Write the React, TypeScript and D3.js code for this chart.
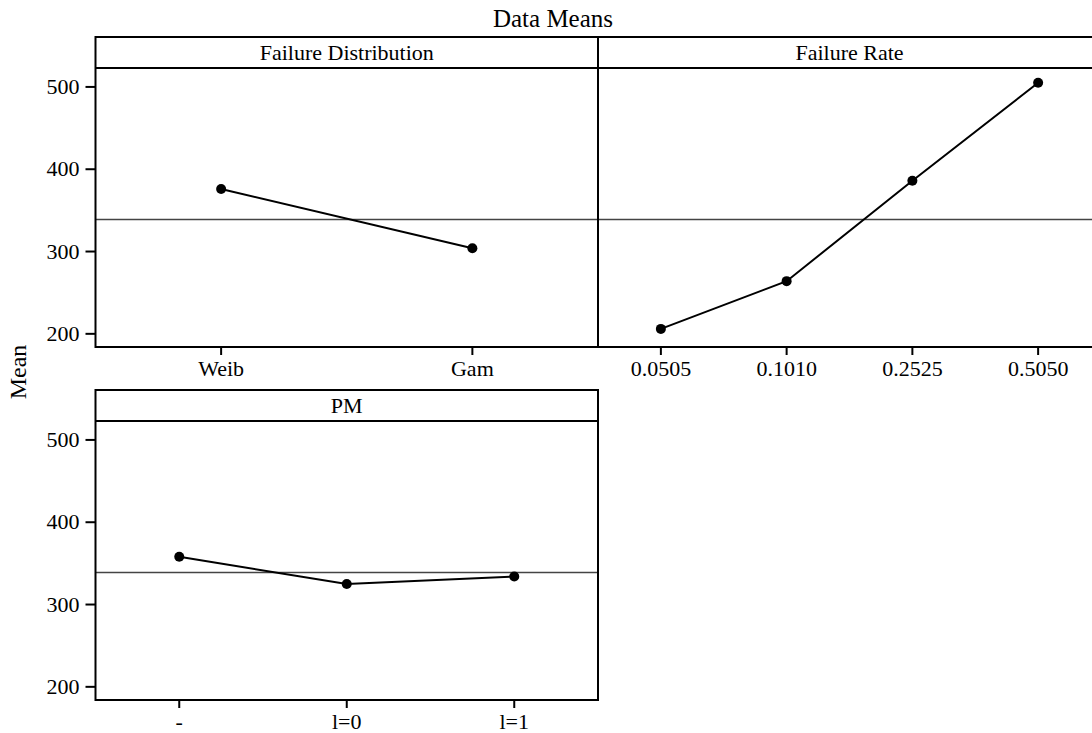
import React from "react";
import * as d3 from "d3";

const chartTitle = "Data Means";
const yLabel = "Mean";
const yTicks = [200, 300, 400, 500];
const yDomain = [184, 523];
const grandMean = 339;

const distCategories = ["Weib", "Gam"];
const distMeans = [376, 304];

const rateCategories = ["0.0505", "0.1010", "0.2525", "0.5050"];
const rateMeans = [206, 264, 386, 505];

const pmCategories = ["-", "l=0", "l=1"];
const pmMeans = [358, 325, 334];

const W = 1092;
const H = 733;
const FONT = "'Liberation Serif', 'Times New Roman', serif";
const FS = 22;

type PanelProps = {
  x0: number;
  x1: number;
  top: number;
  title: string;
  categories: string[];
  values: number[];
  showY: boolean;
};

const STRIP_H = 31;
const PLOT_H = 279;

function Panel({ x0, x1, top, title, categories, values, showY }: PanelProps) {
  const plotTop = top + STRIP_H;
  const plotBottom = plotTop + PLOT_H;
  const y = d3.scaleLinear().domain(yDomain).range([plotBottom, plotTop]);
  const x = d3.scalePoint<string>().domain(categories).range([x0, x1]).padding(0.5);
  const line = d3
    .line<number>()
    .x((_, i) => x(categories[i]) as number)
    .y((d) => y(d));
  return (
    <g>
      <text
        x={(x0 + x1) / 2}
        y={top + STRIP_H / 2 + 7}
        textAnchor="middle"
        fontFamily={FONT}
        fontSize={FS}
        fill="#000"
      >
        {title}
      </text>
      <line x1={x0} x2={x1} y1={y(grandMean)} y2={y(grandMean)} stroke="#444" strokeWidth={1.6} />
      <path d={line(values) || ""} fill="none" stroke="#000" strokeWidth={2} />
      {values.map((v, i) => (
        <circle key={i} cx={x(categories[i]) as number} cy={y(v)} r={5} fill="#000" />
      ))}
      <rect x={x0} y={top} width={x1 - x0} height={STRIP_H + PLOT_H} fill="none" stroke="#000" strokeWidth={2} />
      <line x1={x0} x2={x1} y1={plotTop} y2={plotTop} stroke="#000" strokeWidth={2} />
      {categories.map((c) => (
        <g key={c}>
          <line
            x1={x(c) as number}
            x2={x(c) as number}
            y1={plotBottom}
            y2={plotBottom + 8}
            stroke="#000"
            strokeWidth={2}
          />
          <text
            x={x(c) as number}
            y={plotBottom + 29}
            textAnchor="middle"
            fontFamily={FONT}
            fontSize={FS}
            fill="#000"
          >
            {c}
          </text>
        </g>
      ))}
      {showY &&
        yTicks.map((t) => (
          <g key={t}>
            <line x1={x0 - 10} x2={x0} y1={y(t)} y2={y(t)} stroke="#000" strokeWidth={2} />
            <text
              x={x0 - 16}
              y={y(t) + 7}
              textAnchor="end"
              fontFamily={FONT}
              fontSize={FS}
              fill="#000"
            >
              {t}
            </text>
          </g>
        ))}
    </g>
  );
}

export default function App() {
  const xL = 95.5;
  const xM = 598;
  const xR = 1101;
  return (
    <svg
      width={W}
      height={H}
      style={{ position: "absolute", left: 0, top: 0, display: "block", background: "#fff" }}
    >
      <rect x={0} y={0} width={W} height={H} fill="#fff" />
      <text x={553} y={27} textAnchor="middle" fontFamily={FONT} fontSize={25} fill="#000">
        {chartTitle}
      </text>
      <text
        transform={`translate(26, 372) rotate(-90)`}
        textAnchor="middle"
        fontFamily={FONT}
        fontSize={24}
        fill="#000"
      >
        {yLabel}
      </text>
      <Panel x0={xL} x1={xM} top={37} title="Failure Distribution" categories={distCategories} values={distMeans} showY={true} />
      <Panel x0={xM} x1={xR} top={37} title="Failure Rate" categories={rateCategories} values={rateMeans} showY={false} />
      <Panel x0={xL} x1={xM} top={390} title="PM" categories={pmCategories} values={pmMeans} showY={true} />
    </svg>
  );
}
